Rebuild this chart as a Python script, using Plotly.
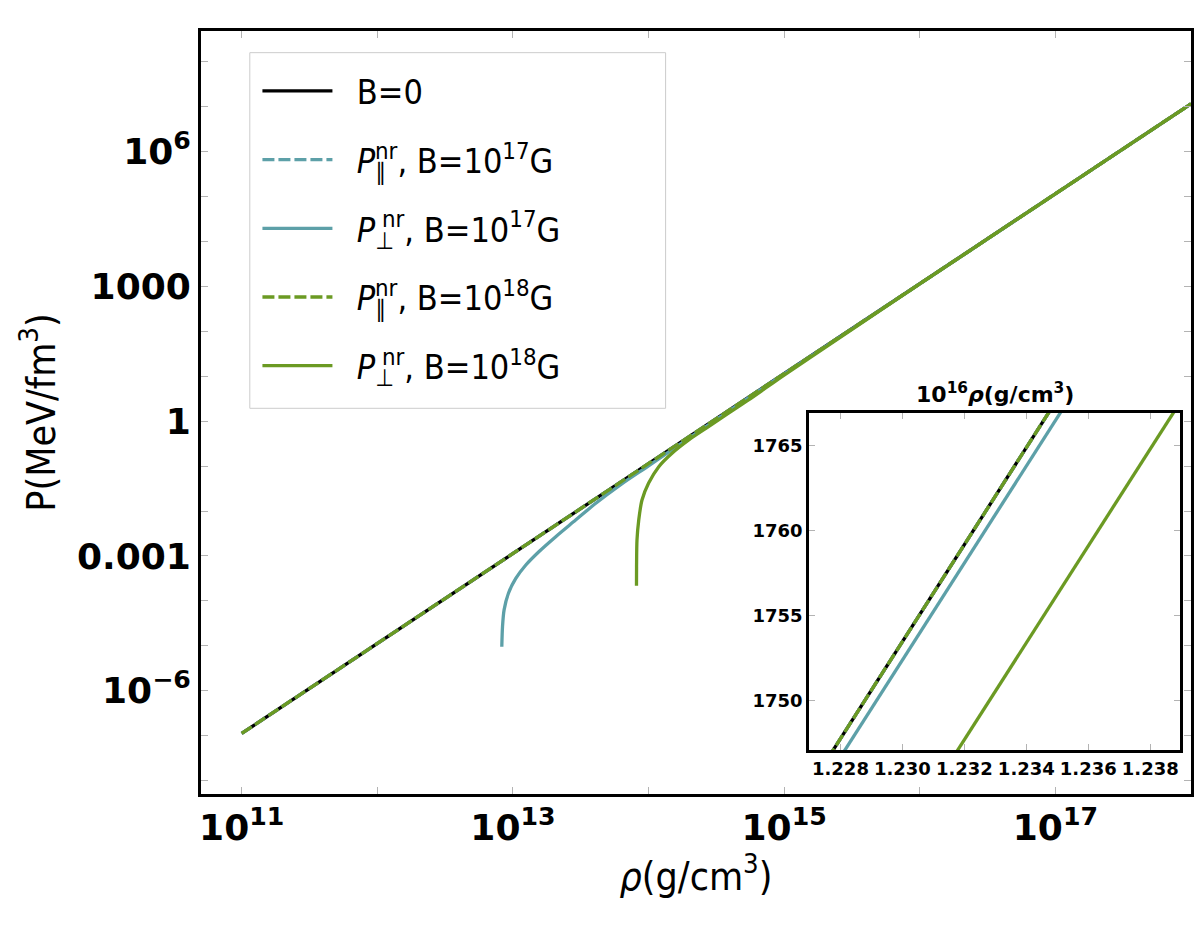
import plotly.graph_objects as go

# ---------------- data ----------------
rho = [1e11, 1e12, 1e13, 1e14, 1e15, 1e16, 1e17, 1e18]
P_B0 = [1.12e-7, 1.12e-5, 1.13e-3, 0.113, 11.4, 1.15e3, 1.16e5, 1.17e7]
P_par_17 = [1.12e-7, 1.12e-5, 1.13e-3, 0.113, 11.4, 1.15e3, 1.16e5, 1.17e7]
P_par_18 = [1.12e-7, 1.12e-5, 1.13e-3, 0.113, 11.4, 1.15e3, 1.16e5, 1.17e7]

rho_perp_17 = [8.28e12, 8.38e12, 8.61e12, 9.27e12, 1.05e13, 1.245e13, 1.56e13, 2.07e13,
               2.90e13, 3.95e13, 6.31e13, 1e14, 2.0e14, 5.0e14, 1e15, 1e16, 1e17, 1e18]
P_perp_17 = [9.5e-6, 2.66e-5, 6.3e-5, 1.48e-4, 3.16e-4, 6.3e-4, 1.26e-3, 2.69e-3,
             6.3e-3, 1.38e-2, 3.98e-2, 0.102, 0.427, 2.82, 11.3, 1.14e3, 1.16e5, 1.17e7]

rho_perp_18 = [8.15e13, 8.16e13, 8.22e13, 8.47e13, 8.95e13, 1.0e14, 1.19e14, 1.49e14,
               1.98e14, 2.77e14, 3.89e14, 5.46e14, 1e15, 2e15, 1e16, 1e17, 1e18]
P_perp_18 = [2.18e-4, 5.78e-4, 2.27e-3, 6.34e-3, 1.77e-2, 4.16e-2, 9.75e-2, 0.194,
             0.384, 0.759, 1.51, 2.98, 10.7, 43.6, 1.14e3, 1.16e5, 1.17e7]

# inset (rho in units of 1e16 g/cm^3)
P_inset = [1745, 1770]
rho_in_B0 = [1.22703, 1.23580]
rho_in_par17 = [1.22703, 1.23580]
rho_in_par18 = [1.22703, 1.23580]
rho_in_perp17 = [1.22741, 1.23618]
rho_in_perp18 = [1.23105, 1.23983]

# tick labels
x_tickvals = [1e11, 1e12, 1e13, 1e14, 1e15, 1e16, 1e17, 1e18]
x_ticktext = ["10<sup>11</sup>", "", "10<sup>13</sup>", "", "10<sup>15</sup>", "", "10<sup>17</sup>", ""]
y_tickvals = [1e-8, 1e-7, 1e-6, 1e-5, 1e-4, 1e-3, 1e-2, 1e-1, 1, 10, 100, 1e3, 1e4, 1e5, 1e6, 1e7, 1e8]
y_ticktext = ["", "", "10<sup>−6</sup>", "", "", "0.001", "", "", "1", "", "", "1000", "", "", "10<sup>6</sup>", "", ""]
inset_xticks = [1.228, 1.230, 1.232, 1.234, 1.236, 1.238]
inset_xticktext = ["1.228", "1.230", "1.232", "1.234", "1.236", "1.238"]
inset_yticks = [1750, 1755, 1760, 1765]

# ---------------- styles ----------------
BLACK = "#000000"
TEAL = "#5DA0A8"
GREEN = "#6B9A23"
LW = 3.3
DASH = "12px,4px"
TXT = "DejaVu Sans Condensed, DejaVu Sans, sans-serif"
BOLD = "DejaVu Sans, sans-serif"
SP = "\u00a0\u00a0"

names = [
    SP + "B=0",
    SP + '<i>P</i><sub style="letter-spacing:-11px">∥</sub><sup>nr</sup>, B=10<sup>17</sup>G',
    SP + '<i>P</i><sub style="letter-spacing:-12px">⊥</sub><sup>nr</sup>, B=10<sup>17</sup>G',
    SP + '<i>P</i><sub style="letter-spacing:-11px">∥</sub><sup>nr</sup>, B=10<sup>18</sup>G',
    SP + '<i>P</i><sub style="letter-spacing:-12px">⊥</sub><sup>nr</sup>, B=10<sup>18</sup>G',
]

fig = go.Figure()

main_series = [
    (rho, P_B0, BLACK, "solid", "linear"),
    (rho, P_par_17, TEAL, DASH, "linear"),
    (rho_perp_17, P_perp_17, TEAL, "solid", "spline"),
    (rho, P_par_18, GREEN, DASH, "linear"),
    (rho_perp_18, P_perp_18, GREEN, "solid", "spline"),
]
for i, (xs, ys, col, dash, shape) in enumerate(main_series):
    fig.add_trace(go.Scatter(x=xs, y=ys, mode="lines", name=names[i],
                             legendgroup="g%d" % i,
                             line=dict(color=col, width=LW, dash=dash, shape=shape, smoothing=0.8),
                             xaxis="x", yaxis="y"))

inset_series = [
    (rho_in_B0, BLACK, "solid"),
    (rho_in_par17, TEAL, DASH),
    (rho_in_perp17, TEAL, "solid"),
    (rho_in_par18, GREEN, DASH),
    (rho_in_perp18, GREEN, "solid"),
]
for xs, col, dash in inset_series:
    fig.add_trace(go.Scatter(x=xs, y=P_inset, mode="lines", showlegend=False,
                             line=dict(color=col, width=LW, dash=dash),
                             xaxis="x2", yaxis="y2"))

tick_gray = "#b3b3b3"

fig.update_layout(
    width=1200, height=928,
    margin=dict(l=201, r=6, t=31, b=134),
    paper_bgcolor="white", plot_bgcolor="white",
    showlegend=True,
    xaxis=dict(type="log", range=[10.70, 18.0], showline=True, linewidth=3, linecolor="black",
               mirror="ticks", ticks="inside", ticklen=7, tickwidth=1, tickcolor=tick_gray,
               showgrid=False, zeroline=False,
               tickmode="array", tickvals=x_tickvals, ticktext=x_ticktext,
               tickfont=dict(family=BOLD, size=36, color="black", weight="bold"),
               title=dict(text="<i>ρ</i>(g/cm<sup>3</sup>)",
                          font=dict(family=TXT, size=39, color="black"), standoff=10)),
    yaxis=dict(type="log", range=[-8.30, 8.69], showline=True, linewidth=3, linecolor="black",
               mirror="ticks", ticks="inside", ticklen=7, tickwidth=1, tickcolor=tick_gray,
               showgrid=False, zeroline=False,
               tickmode="array", tickvals=y_tickvals, ticktext=y_ticktext,
               tickfont=dict(family=BOLD, size=36, color="black", weight="bold"),
               title=dict(text="P(MeV/fm<sup>3</sup>)",
                          font=dict(family=TXT, size=39, color="black"), standoff=10)),
    xaxis2=dict(domain=[0.6143, 0.9889], anchor="y2", range=[1.22699, 1.23896],
                showline=True, linewidth=3, linecolor="black", mirror="ticks",
                ticks="inside", ticklen=6, tickwidth=1, tickcolor=tick_gray,
                showgrid=False, zeroline=False,
                tickmode="array", tickvals=inset_xticks, ticktext=inset_xticktext,
                tickfont=dict(family=BOLD, size=18, color="black", weight="bold")),
    yaxis2=dict(domain=[0.0577, 0.4993], anchor="x2", range=[1747.1, 1766.9],
                showline=True, linewidth=3, linecolor="black", mirror="ticks",
                ticks="inside", ticklen=6, tickwidth=1, tickcolor=tick_gray,
                showgrid=False, zeroline=False,
                tickmode="array", tickvals=inset_yticks,
                tickfont=dict(family=BOLD, size=18, color="black", weight="bold")),
    legend=dict(x=0.057, y=0.959, xanchor="left", yanchor="top",
                bgcolor="rgba(0,0,0,0)", borderwidth=0,
                font=dict(family=TXT, size=34, color="black"),
                itemwidth=70, tracegroupgap=21.5, traceorder="grouped"),
    shapes=[dict(type="rect", xref="paper", yref="paper",
                 x0=0.0493, x1=0.4693, y0=0.5055, y1=0.9716,
                 line=dict(color="#cccccc", width=1), fillcolor="white", layer="below")],
    annotations=[dict(text="<b>10<sup>16</sup><i>ρ</i>(g/cm<sup>3</sup>)</b>",
                      xref="paper", yref="paper", x=0.8016, y=0.505,
                      xanchor="center", yanchor="bottom", showarrow=False,
                      font=dict(family=BOLD, size=22, color="black"))],
)

fig.write_html("out.html")
